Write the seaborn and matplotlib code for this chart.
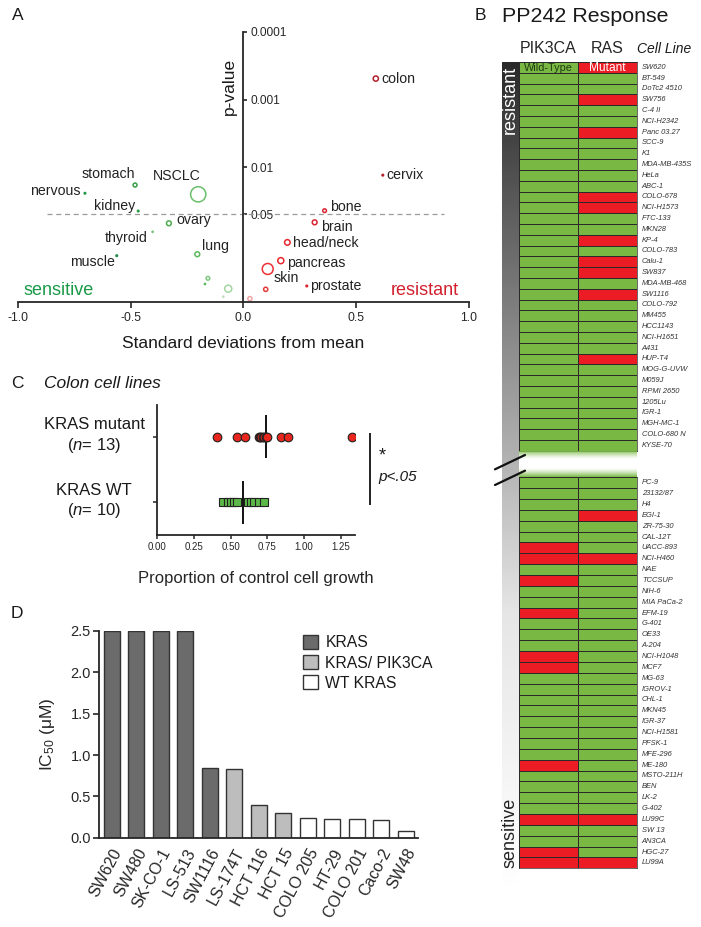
import numpy as np
import pandas as pd
import matplotlib
matplotlib.use("Agg")
import matplotlib.pyplot as plt
import seaborn as sns
from matplotlib.colors import ListedColormap, LinearSegmentedColormap, to_rgb
from matplotlib.patches import Patch
from matplotlib.lines import Line2D

# ---------------- data ----------------
# A: tissue enrichment (SD from mean vs p-value)
tissues = ["colon", "cervix", "bone", "brain", "head/neck", "pancreas", "skin", "prostate", "", "",
           "stomach", "nervous", "NSCLC", "kidney", "ovary", "thyroid", "lung", "muscle", "", "", "", ""]
sd_from_mean = [0.587, 0.618, 0.360, 0.316, 0.195, 0.166, 0.108, 0.281, 0.099, 0.029,
                -0.480, -0.702, -0.200, -0.466, -0.330, -0.402, -0.204, -0.561, -0.157, -0.170, -0.067, -0.089]
p_values = [0.00049, 0.0132, 0.0444, 0.066, 0.131, 0.244, 0.324, 0.579, 0.649, 0.893,
            0.0185, 0.0245, 0.0254, 0.0449, 0.0682, 0.0912, 0.196, 0.206, 0.446, 0.541, 0.635, 0.834]

# B: PP242 response, mutation status
resistant_lines = ["SW620", "BT-549", "DoTc2 4510", "SW756", "C-4 II", "NCI-H2342", "Panc 03.27", "SCC-9",
                   "K1", "MDA-MB-435S", "HeLa", "ABC-1", "COLO-678", "NCI-H1573", "FTC-133", "MKN28",
                   "KP-4", "COLO-783", "Calu-1", "SW837", "MDA-MB-468", "SW1116", "COLO-792", "MM455",
                   "HCC1143", "NCI-H1651", "A431", "HUP-T4", "MOG-G-UVW", "M059J", "RPMI 2650", "1205Lu",
                   "IGR-1", "MGH-MC-1", "COLO-680 N", "KYSE-70"]
sensitive_lines = ["PC-9", "23132/87", "H4", "EGI-1", "ZR-75-30", "CAL-12T", "UACC-893", "NCI-H460",
                   "NAE", "TCCSUP", "NIH-6", "MIA PaCa-2", "EFM-19", "G-401", "OE33", "A-204",
                   "NCI-H1048", "MCF7", "MG-63", "IGROV-1", "CHL-1", "MKN45", "IGR-37", "NCI-H1581",
                   "PFSK-1", "MFE-296", "ME-180", "MSTO-211H", "BEN", "LK-2", "G-402", "LU99C",
                   "SW 13", "AN3CA", "HGC-27", "LU99A"]
pik3ca_mutant = ["UACC-893", "NCI-H460", "TCCSUP", "EFM-19", "NCI-H1048", "MCF7", "ME-180",
                 "LU99C", "HGC-27", "LU99A"]
ras_mutant = ["SW620", "SW756", "Panc 03.27", "COLO-678", "NCI-H1573", "KP-4", "Calu-1", "SW837",
              "SW1116", "HUP-T4", "EGI-1", "NCI-H460", "LU99C", "LU99A"]

# C: colon cell lines, proportion of control growth
groups = ["KRAS mutant", "KRAS WT"]
group_n = [13, 10]
kras_mut_growth = [0.41, 0.54, 0.60, 0.69, 0.70, 0.71, 0.72, 0.73, 0.74, 0.75, 0.84, 0.89, 1.33]
kras_wt_growth = [0.45, 0.48, 0.50, 0.52, 0.54, 0.62, 0.64, 0.66, 0.69, 0.73]

# D: IC50 per colon line
colon_lines = ["SW620", "SW480", "SK-CO-1", "LS-513", "SW1116", "LS-174T", "HCT 116", "HCT 15",
               "COLO 205", "HT-29", "COLO 201", "Caco-2", "SW48"]
ic50_um = [2.5, 2.5, 2.5, 2.5, 0.84, 0.83, 0.40, 0.30, 0.235, 0.226, 0.226, 0.214, 0.085]
genotype = ["KRAS"] * 5 + ["KRAS/ PIK3CA"] * 3 + ["WT KRAS"] * 5
genotype_order = ["KRAS", "KRAS/ PIK3CA", "WT KRAS"]

# ---------------- styles ----------------
pt_colors = ["#b5202c", "#b5202c", "#d9232f", "#d9232f", "#e8262d", "#e8262d", "#ee3035", "#e0202c",
             "#e23a3a", "#f2a2a2",
             "#35a24a", "#22994a", "#6cbf6a", "#2aa04a", "#4cae4f", "#7cc67a", "#5bb85a", "#1e8c45",
             "#7fc77e", "#5fb95e", "#a3d6a1", "#bfe2bd"]
pt_sizes = [14, 5, 7, 12, 16, 19, 62, 5, 9, 9,
            8, 5, 120, 5, 12, 4, 12, 5, 7, 4, 26, 4]
pt_filled = [False, True, False, False, False, False, False, True, False, False,
             False, True, False, True, False, True, False, True, False, True, False, True]
label_offsets = [(6, 0, "left"), (4, 0, "left"), (5, 4, "left"), (6, -4.5, "left"), (6, -1, "left"),
                 (6, -2.6, "left"), (5.6, -9.3, "left"), (3, 0, "left"), None, None,
                 (0, 11, "right"), (-4.3, 2.3, "right"), (-21.6, 18.3, "center"), (-3.3, 5, "right"),
                 (7.7, 3.3, "left"), (-4.7, -6.6, "right"), (4.4, 8.6, "left"), (-1.7, -6, "right"),
                 None, None, None, None]

W, H = 701, 927
sns.set_style("ticks")
plt.rcParams["font.family"] = ["Liberation Sans", "DejaVu Sans"]
plt.rcParams["mathtext.fontset"] = "custom"
plt.rcParams["mathtext.rm"] = "Liberation Sans"
plt.rcParams["mathtext.it"] = "Liberation Sans:italic"
plt.rcParams["axes.unicode_minus"] = False
plt.rcParams["text.color"] = "#1a1a1a"

fig = plt.figure(figsize=(W / 100, H / 100), dpi=100)


def px_axes(x0, y0, x1, y1):
    return fig.add_axes([x0 / W, 1 - y1 / H, (x1 - x0) / W, (y1 - y0) / H])


def panel_letter(x, y, s):
    fig.text(x / W, 1 - y / H, s, ha="center", va="center", fontsize=12.5)


# ---------------- panel A ----------------
axA = px_axes(17.7, 32, 469, 302)
dfA = pd.DataFrame({"tissue": tissues, "sd": sd_from_mean, "p": p_values,
                    "color": pt_colors, "size": pt_sizes, "filled": pt_filled})
dfA["neglogp"] = -np.log10(dfA["p"])
dfA["key"] = ["t%d" % i for i in range(len(dfA))]
for filled, sub in dfA.groupby("filled"):
    sns.scatterplot(data=sub, x="sd", y="neglogp", hue="key",
                    palette=dict(zip(sub["key"], sub["color"])), s=sub["size"].values,
                    linewidth=0, legend=False, ax=axA)
    coll = axA.collections[-1]
    if not filled:
        fc = coll.get_facecolors()
        coll.set_facecolor("none")
        coll.set_edgecolors(fc)
        coll.set_linewidths(1.1)

for i, row in dfA.iterrows():
    off = label_offsets[i]
    if off is None:
        continue
    axA.annotate(row["tissue"], (row["sd"], row["neglogp"]), xytext=(off[0], off[1]),
                 textcoords="offset pixels", ha=off[2], va="center", fontsize=10.2, color="#222")

axA.hlines(-np.log10(0.05), -0.87, 0.89, colors="#9a9a9a", linestyles=(0, (4, 3)), lw=0.9)
axA.set_xlim(-1, 1)
axA.set_ylim(0, 4)
axA.spines["top"].set_visible(False)
axA.spines["left"].set_visible(False)
axA.spines["right"].set_position(("data", 0))
axA.spines["right"].set_linewidth(1.3)
axA.spines["bottom"].set_linewidth(1.3)
axA.yaxis.tick_right()
yt = [0.0001, 0.001, 0.01, 0.05]
axA.set_yticks(-np.log10(yt))
axA.set_yticklabels(["0.0001", "0.001", "0.01", "0.05"])
axA.set_xticks([-1, -0.5, 0, 0.5, 1])
axA.set_xticklabels(["-1.0", "-0.5", "0.0", "0.5", "1.0"])
axA.tick_params(axis="y", direction="out", length=3, width=1.2, pad=2, labelsize=8.6)
axA.tick_params(axis="x", direction="out", length=4, width=1.2, pad=3, labelsize=8.8)
axA.set_xlabel("")
axA.set_ylabel("")
axA.text(-0.82, 0.10, "sensitive", color="#1a9a48", fontsize=13, ha="center", va="baseline")
axA.text(0.805, 0.10, "resistant", color="#d3202e", fontsize=13, ha="center", va="baseline")
fig.text(229 / W, 1 - 86 / H, "p-value", rotation=90, ha="center", va="center", fontsize=12.5)
fig.text(243 / W, 1 - 343 / H, "Standard deviations from mean", ha="center", va="center", fontsize=12.5)
panel_letter(17.3, 15.5, "A")

# ---------------- panel B ----------------
green, red = "#78b843", "#ec1c24"


def mutation_frame(lines):
    return pd.DataFrame({"PIK3CA": [int(c in pik3ca_mutant) for c in lines],
                         "RAS": [int(c in ras_mutant) for c in lines]}, index=lines)


axBar = px_axes(502, 62, 519, 890)
bar_cmap = LinearSegmentedColormap.from_list("bar", ["#2a2a2a", "#8a8a8a", "#e6e6e6", "#ffffff"])
axBar.imshow(np.linspace(0, 1, 300)[:, None], aspect="auto", cmap=bar_cmap)
axBar.axis("off")

axB1 = px_axes(519, 62, 637, 450.7)
axB2 = px_axes(519, 477.3, 637, 868.3)
for ax, lines in ((axB1, resistant_lines), (axB2, sensitive_lines)):
    sns.heatmap(mutation_frame(lines), ax=ax, cmap=ListedColormap([green, red]), vmin=0, vmax=1,
                cbar=False, linewidths=0.55, linecolor="#2a2a2a")
    ax.set_yticks(np.arange(len(lines)) + 0.5)
    ax.set_yticklabels(lines, fontstyle="italic", fontsize=5.4, rotation=0, va="center", color="#333")
    ax.yaxis.tick_right()
    ax.tick_params(axis="y", length=0, pad=3.5)
    ax.set_ylabel("")
    for s in ax.spines.values():
        s.set_visible(True)
        s.set_linewidth(0.5)
        s.set_color("#2a2a2a")
axB1.xaxis.tick_top()
axB1.tick_params(axis="x", length=0, pad=4, labelsize=11.5)
axB2.set_xticks([])
axB1.text(0.5, 0.55, "Wild-Type", ha="center", va="center", fontsize=7.8, color="#1f3a12")
axB1.text(1.5, 0.55, "Mutant", ha="center", va="center", fontsize=8.6, color="white")

# fade between the two blocks
axF = px_axes(519, 450.7, 637, 477.3)
t = np.linspace(0, 1, 120)
d = np.minimum(t, 1 - t) * 26.6
alpha = np.clip(1 - d / 9.0, 0, 1) ** 1.4
img = np.zeros((len(t), 1, 4))
img[:, 0, :3] = to_rgb(green)
img[:, 0, 3] = alpha
axF.imshow(img, aspect="auto")
axF.axis("off")

for (x0, y0, x1, y1) in ((495, 469.3, 525, 455), (495, 485, 525, 470.7)):
    fig.add_artist(Line2D([x0 / W, x1 / W], [1 - y0 / H, 1 - y1 / H], transform=fig.transFigure,
                          color="#111", lw=1.6))

fig.text(510.5 / W, 1 - 100 / H, "resistant", rotation=90, ha="center", va="center",
         fontsize=13, color="white")
fig.text(510 / W, 1 - 833 / H, "sensitive", rotation=90, ha="center", va="center",
         fontsize=13, color="#222")
fig.text(664 / W, 1 - 49 / H, "Cell Line", fontstyle="italic", ha="center", va="center", fontsize=10)
fig.text(502 / W, 1 - 17 / H, "PP242 Response", ha="left", va="center", fontsize=15.4)
panel_letter(480, 16, "B")

# ---------------- panel C ----------------
axC = px_axes(157.3, 405, 355.3, 535)
dfC = pd.DataFrame({"growth": kras_mut_growth + kras_wt_growth,
                    "group": [groups[0]] * len(kras_mut_growth) + [groups[1]] * len(kras_wt_growth)})
sns.stripplot(data=dfC[dfC["group"] == groups[0]], x="growth", y="group", order=groups, jitter=False,
              marker="o", color="#e8261e", edgecolor="#222", linewidth=0.8, size=6.2, ax=axC)
sns.stripplot(data=dfC[dfC["group"] == groups[1]], x="growth", y="group", order=groups, jitter=False,
              marker="s", color="#5cb848", edgecolor="#222", linewidth=0.8, size=6.0, ax=axC)
means = dfC.groupby("group")["growth"].mean()
for i, g in enumerate(groups):
    axC.vlines(means[g], i - 0.33, i + 0.33, colors="#111", lw=1.4)
    axC.text(-0.43, i - 0.18, g, ha="center", va="center", fontsize=12, clip_on=False)
    axC.text(-0.43, i + 0.13, r"($\mathit{n}$= $\mathit{%d}$)" % group_n[i], ha="center", va="center",
             fontsize=12, clip_on=False)
axC.set_xlim(0, 1.35)
axC.set_ylim(1.5, -0.48)
axC.set_xticks([0, 0.25, 0.5, 0.75, 1.0, 1.25])
axC.set_xticklabels(["0.00", "0.25", "0.50", "0.75", "1.00", "1.25"])
axC.set_yticks([0, 1])
axC.set_yticklabels([])
axC.set_ylabel("")
axC.tick_params(axis="both", direction="out", length=3, width=1.1)
axC.tick_params(axis="x", labelsize=7, pad=2)
sns.despine(ax=axC)
axC.spines["left"].set_linewidth(1.3)
axC.spines["bottom"].set_linewidth(1.3)
axC.set_xlabel("Proportion of control cell growth", fontsize=12, labelpad=14)
axC.vlines(1.45, -0.056, 1.04, colors="#111", lw=1.3, clip_on=False)
axC.text(1.536, 0.30, "*", fontsize=13, ha="center", va="center", clip_on=False)
axC.text(1.504, 0.61, "p<.05", fontstyle="italic", fontsize=11, ha="left", va="center", clip_on=False)
panel_letter(17.3, 383.3, "C")
fig.text(44 / W, 1 - 383.3 / H, "Colon cell lines", fontstyle="italic", ha="left", va="center",
         fontsize=12.5)

# ---------------- panel D ----------------
axD = px_axes(99.3, 631, 418, 837.7)
dfD = pd.DataFrame({"line": colon_lines, "ic50": ic50_um, "genotype": genotype})
geno_colors = dict(zip(genotype_order, ["#6b6b6b", "#bdbdbd", "#ffffff"]))
sns.barplot(data=dfD, x="line", y="ic50", hue="genotype", hue_order=genotype_order,
            palette=geno_colors, dodge=False, width=0.65, edgecolor="#333", linewidth=1.0,
            legend=False, ax=axD)
axD.set_ylim(0, 2.5)
axD.set_xlim(-0.5, len(colon_lines) - 0.5)
axD.set_yticks([0, 0.5, 1.0, 1.5, 2.0, 2.5])
axD.set_yticklabels(["0.0", "0.5", "1.0", "1.5", "2.0", "2.5"])
axD.set_xticks(range(len(colon_lines)))
axD.set_xticklabels(colon_lines, rotation=62, ha="right", rotation_mode="anchor", fontsize=11.5)
axD.tick_params(axis="y", direction="out", length=4, width=1.2, labelsize=10.5, pad=2)
axD.tick_params(axis="x", length=0, pad=6)
sns.despine(ax=axD)
axD.spines["left"].set_linewidth(1.3)
axD.spines["bottom"].set_linewidth(1.3)
axD.set_xlabel("")
axD.set_ylabel("IC$_{50}$ (μM)", fontsize=12.5, labelpad=10)
handles = [Patch(facecolor=geno_colors[g], edgecolor="#333", lw=1.0) for g in genotype_order]
axD.legend(handles, genotype_order, loc="upper left", bbox_to_anchor=(302.7 / W, 1 - 635 / H),
           bbox_transform=fig.transFigure, frameon=False, fontsize=11.3, handlelength=1.0,
           handleheight=1.0, handletextpad=0.45, labelspacing=0.3, borderpad=0, borderaxespad=0)
panel_letter(17.3, 613.3, "D")

fig.savefig("out.png", dpi=100)
